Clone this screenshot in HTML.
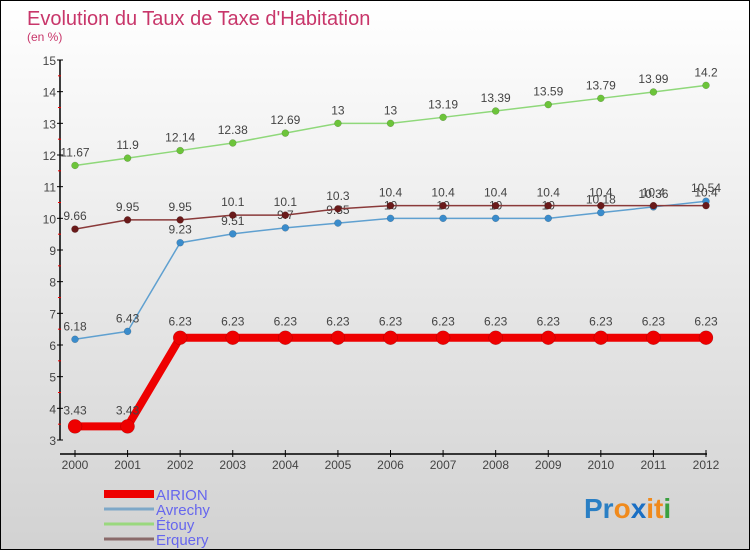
<!DOCTYPE html>
<html><head><meta charset="utf-8"><style>
html,body{margin:0;padding:0}
body{width:750px;height:550px;overflow:hidden;font-family:"Liberation Sans",sans-serif}
#wrap{position:relative;width:748px;height:548px;border:1px solid #000;background:linear-gradient(#ffffff,#d2d2d2)}
</style></head><body>
<div id="wrap">
<svg id="chart" width="748" height="548" xmlns="http://www.w3.org/2000/svg">
<text x="26" y="24" font-size="20" fill="#c8366a">Evolution du Taux de Taxe d'Habitation</text>
<text x="26" y="40" font-size="12" fill="#c8366a">(en %)</text>
<g id="axes"></g><g id="series"></g><g id="legend"></g>
<text x="583" y="517" font-size="28" font-weight="bold"><tspan fill="#2a7fc4">Pr</tspan><tspan fill="#f08a1c">o</tspan><tspan fill="#1a6fc4">x</tspan><tspan fill="#f08a1c">it</tspan><tspan fill="#3aa040">i</tspan></text>
</svg>
</div>
<script>
const years=[2000,2001,2002,2003,2004,2005,2006,2007,2008,2009,2010,2011,2012];
const yTicks=[3,4,5,6,7,8,9,10,11,12,13,14,15];
const airion=[3.43,3.43,6.23,6.23,6.23,6.23,6.23,6.23,6.23,6.23,6.23,6.23,6.23];
const avrechy=[6.18,6.43,9.23,9.51,9.7,9.85,10,10,10,10,10.18,10.36,10.54];
const etouy=[11.67,11.9,12.14,12.38,12.69,13,13,13.19,13.39,13.59,13.79,13.99,14.2];
const erquery=[9.66,9.95,9.95,10.1,10.1,10.3,10.4,10.4,10.4,10.4,10.4,10.4,10.4];
const NS="http://www.w3.org/2000/svg";
function X(i){return 74+i*(705-74)/(years.length-1);}
function Y(v){return 439-(v-3)*(439-59)/12;}
function mk(t,a,p){const e=document.createElementNS(NS,t);for(const k in a)e.setAttribute(k,a[k]);p.appendChild(e);return e;}
const ax=document.getElementById('axes');
let l=mk('line',{x1:59,y1:Y(15),x2:59,y2:Y(3),stroke:'#000','stroke-width':1.5},ax);


l=mk('line',{x1:59,y1:453,x2:706,y2:453,stroke:'#000','stroke-width':1.5},ax);


yTicks.forEach(v=>{
 mk('line',{x1:56,y1:Y(v),x2:62,y2:Y(v),stroke:'#000'},ax);
 if(v<15)mk('line',{x1:57,y1:Y(v+0.5),x2:60,y2:Y(v+0.5),stroke:'#e00'},ax);
 const t=mk('text',{x:55,y:Y(v)+5,'text-anchor':'end','font-size':12,fill:'#444'},ax);t.textContent=v;
 
 
});
years.forEach((yr,i)=>{
 mk('line',{x1:X(i),y1:449,x2:X(i),y2:456,stroke:'#000'},ax);
 const t=mk('text',{x:X(i),y:468,'text-anchor':'middle','font-size':12,fill:'#444'},ax);t.textContent=yr;
 
 
});
const sg=document.getElementById('series');
function draw(vals,col,dot,w,r,name,labOff){
 const g=mk('g',{},sg);
 
 
 mk('polyline',{points:vals.map((v,i)=>X(i)+','+Y(v)).join(' '),fill:'none',stroke:col,'stroke-width':w,'stroke-linejoin':'round'},g);
 vals.forEach((v,i)=>{
  const c=mk('circle',{cx:X(i),cy:Y(v),r:r,fill:dot,stroke:'rgba(0,0,0,0.25)','stroke-width':0.5},g);
  
  
  const t=mk('text',{x:X(i),y:Y(v)+labOff,'text-anchor':'middle','font-size':12,fill:'#444'},g);t.textContent=v;
 });
}
draw(etouy,'#8fd87a','#6cc43a',1.5,3.5,'series-etouy',-9);
draw(avrechy,'#5fa0d0','#3a8ccc',1.5,3.5,'series-avrechy',-9);
draw(erquery,'#8a3a3a','#6a1a1a',1.5,3.5,'series-erquery',-9);
draw(airion,'#ee0000','#ee0000',8,7,'series-airion',-12);
const lg=document.getElementById('legend');
[['AIRION','#ee0000',8],['Avrechy','#7ea8c8',3],['Étouy','#9ad87e',3],['Erquery','#8a6a6a',3]].forEach((d,i)=>{
 const y=493+i*15;
 const g=mk('g',{},lg);
 
 
 mk('line',{x1:103,y1:y,x2:153,y2:y,stroke:d[1],'stroke-width':d[2]},g);
 const t=mk('text',{x:155,y:y+6,'font-size':15,fill:'#6666ee'},g);t.textContent=d[0];
});
</script>
</body></html>
